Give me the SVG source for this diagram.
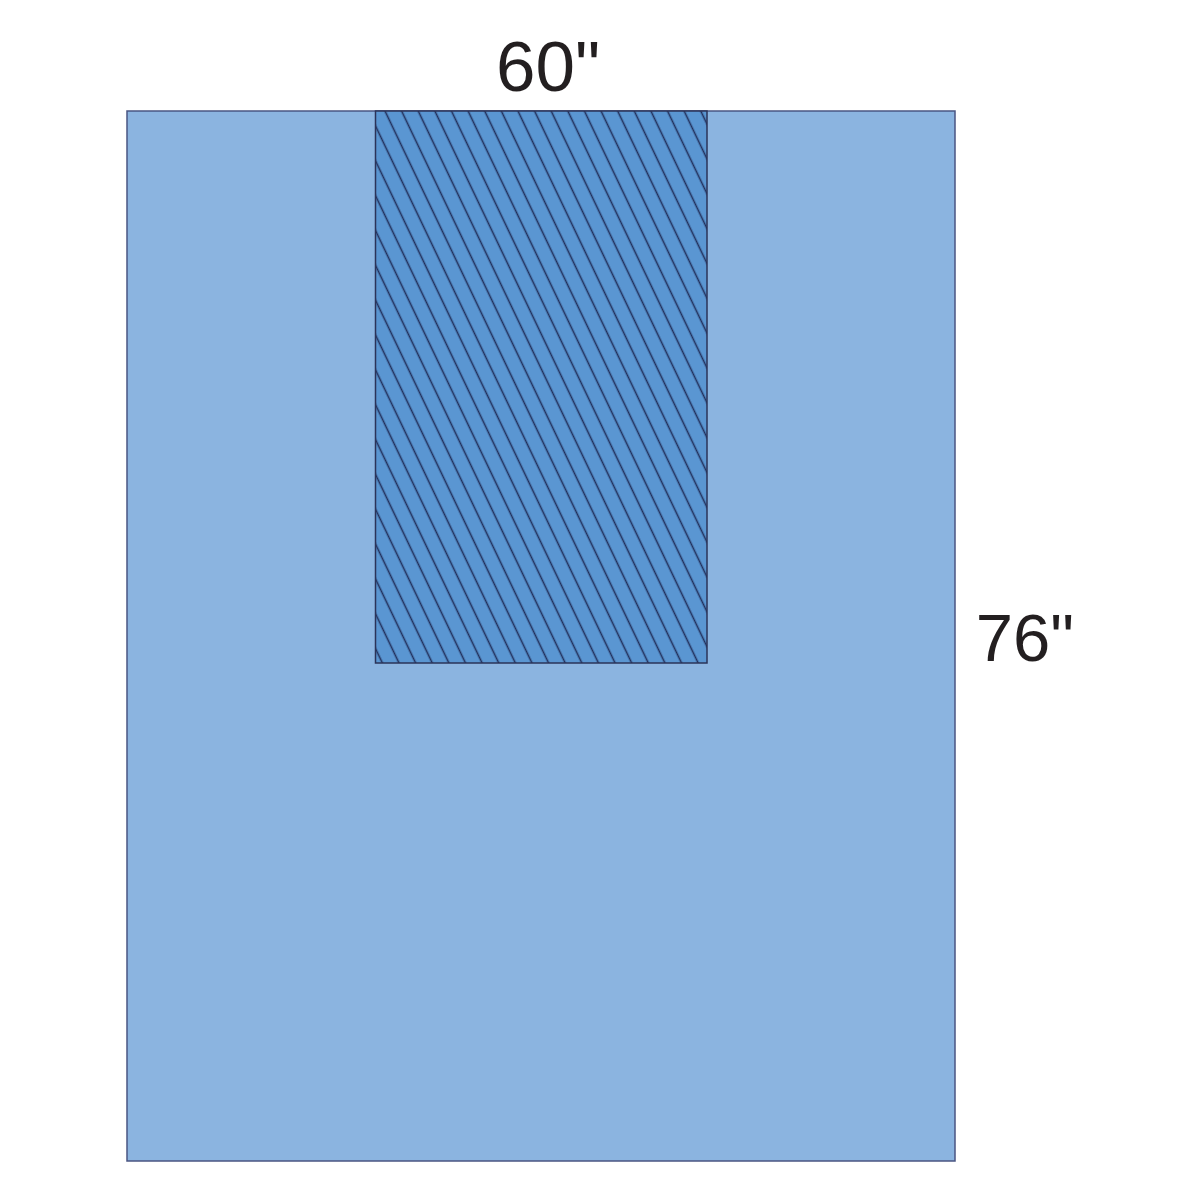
<svg xmlns="http://www.w3.org/2000/svg" width="1200" height="1200" viewBox="0 0 1200 1200">
  <style>
    .lbl { font-family: "Liberation Sans", Arial, sans-serif; fill: #231f20; }
    .sheet { fill: #8bb4e0; stroke: #4a5582; stroke-width: 1.5; }
    .window { fill: url(#hatch); stroke: #2b3358; stroke-width: 1.5; }
  </style>
  <defs>
    <pattern id="hatch" patternUnits="userSpaceOnUse" x="377.5" y="111" width="15" height="40" patternTransform="rotate(-25.5 385 111)">
      <rect x="-1" y="-1" width="17" height="42" fill="#5a96d2"/>
      <line x1="7.5" y1="-1" x2="7.5" y2="41" stroke="#22305c" stroke-width="1.6"/>
    </pattern>
  </defs>
  <rect width="1200" height="1200" fill="#ffffff"/>
  <g id="drape">
    <rect class="sheet" x="127" y="111" width="828" height="1050"/>
  </g>
  <g id="fenestration">
    <rect class="window" x="375.5" y="111" width="331.5" height="552"/>
  </g>
  <g id="connectors"></g>
  <g id="label-width">
    <text class="lbl" x="548" y="91" font-size="71" text-anchor="middle">60"</text>
  </g>
  <g id="label-height">
    <text class="lbl" x="1025" y="661" font-size="67" text-anchor="middle">76"</text>
  </g>
</svg>
